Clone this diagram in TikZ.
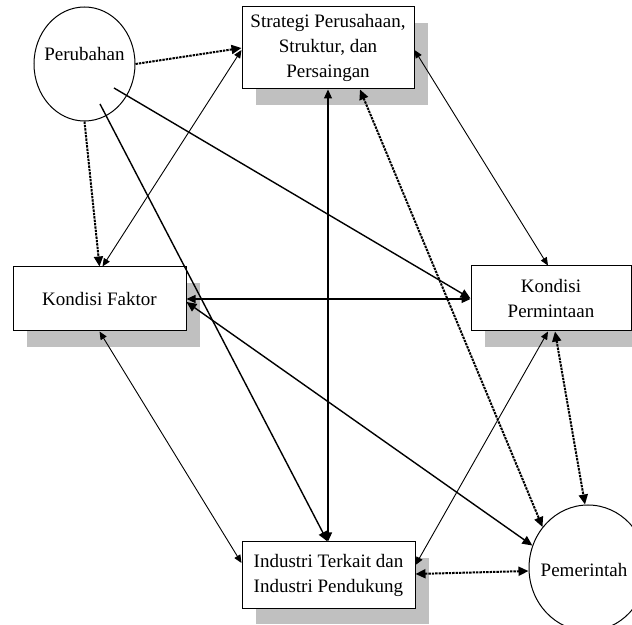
\documentclass[tikz,border=0pt]{standalone}
\usepackage{fontspec}
\setmainfont{Liberation Serif}
\usetikzlibrary{arrows.meta,shapes.geometric,shadows}
\definecolor{shadowgray}{HTML}{C0C0C0}

\begin{document}
\begin{tikzpicture}[x=0.5pt,y=-0.5pt,font=\fontsize{9.5}{12.5}\selectfont]
	\useasboundingbox (0,0) rectangle (632,625);
	\clip (0,0) rectangle (632,625);
	\tikzset{box/.style={draw,fill=white,line width=0.5pt,inner sep=0pt,align=center,
		drop shadow={shadow xshift=7pt,shadow yshift=-8pt,fill=shadowgray,opacity=1}}}
	\tikzset{blob/.style={ellipse,draw,line width=0.5pt,inner sep=0pt}}
	\tikzset{thinline/.style={line width=0.45pt,>={Triangle[length=4pt,width=3.4pt]}}}
	\tikzset{midline/.style={line width=0.55pt,>={Triangle[length=4.5pt,width=4pt]}}}
	\tikzset{thickline/.style={line width=0.7pt,>={Triangle[length=5pt,width=4.5pt]}}}
	\tikzset{dotline/.style={line width=1pt,dash pattern=on 1.2pt off 0.5pt,>={Triangle[length=5pt,width=4.5pt]}}}
	% boxes and circles
	\node[box,minimum width=86pt,minimum height=41pt] (str) at (328,48) {Strategi Perusahaan,\\Struktur, dan\\Persaingan};
	\node[box,minimum width=86.5pt,minimum height=32pt] (kf) at (99.5,299) {Kondisi Faktor};
	\node[box,minimum width=80pt,minimum height=32.5pt] (kp) at (551,298.5) {Kondisi\\Permintaan};
	\node[box,minimum width=86.5pt,minimum height=33pt,align=left] (ind) at (328.5,575) {Industri Terkait dan\\Industri Pendukung};
	\node[blob,minimum width=50.5pt,minimum height=57pt] (per) at (84.5,64) {};
	\node (perlabel) at (84.5,54) {Perubahan};
	\node[blob,minimum width=59pt,minimum height=63pt] (pem) at (588,568) {};
	\node (pemlabel) at (584,570) {Pemerintah};
	\coordinate (perA) at (100,104);
	\coordinate (perB) at (114,88);
	% connections
	\draw[dotline,->] (per.east) -- (str.west);
	\draw[dotline,->] (per.south) -- (kf.north);
	\draw[thinline,<->] ([xshift=1.5pt]kf.north) -- ([yshift=-1pt]str.west);
	\draw[thickline,->] (perA) -- ([xshift=-0.5pt]ind.north);
	\draw[thickline,->] (perB) -- (kp.west);
	\draw[midline,<->] (str.south) -- (str.south |- ind.north);
	\draw[dotline,<->] ([xshift=16pt]str.south) -- (pem.138);
	\draw[thinline,<->] ([yshift=-1pt]str.east) -- ([xshift=-1.5pt]kp.north);
	\draw[midline,<->] (kf.east) -- (kf.east -| kp.west);
	\draw[thickline,<->] ([yshift=-1.5pt]kf.east) -- (pem.158);
	\draw[thinline,<->] (kf.south) -- ([yshift=6pt]ind.west);
	\draw[thinline,<->] ([yshift=5pt]ind.east) -- ([xshift=-1.5pt]kp.south);
	\draw[dotline,<->] ([yshift=0.5pt]ind.east) -- ([yshift=-1.5pt]pem.west);
	\draw[dotline,<->] ([xshift=2pt]kp.south) -- ([xshift=-1.5pt]pem.north);
\end{tikzpicture}
\end{document}
